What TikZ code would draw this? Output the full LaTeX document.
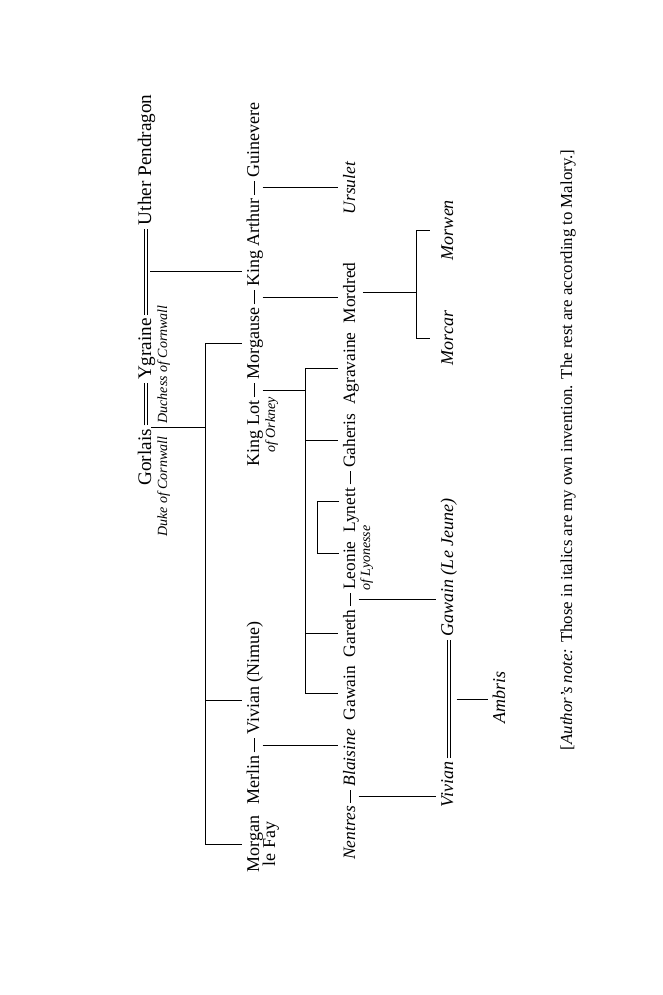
\documentclass[tikz,border=0pt]{standalone}
\usepackage{fontspec}
\setmainfont{Liberation Serif}
\usetikzlibrary{calc}
\begin{document}
\begin{tikzpicture}[x=0.5pt,y=-0.5pt, line width=0.5pt,
  r1/.style={rotate=90, inner sep=0pt, text height=6.7pt, text depth=1.9pt, font=\fontsize{9.6}{11}\selectfont},
  nm/.style={rotate=90, inner sep=0pt, text height=6.3pt, text depth=1.8pt, font=\fontsize{9}{11}\selectfont},
  r3/.style={rotate=90, inner sep=0pt, text height=6.1pt, text depth=1.7pt, font=\fontsize{8.7}{11}\selectfont},
  it3/.style={r3, font=\fontsize{8.7}{11}\selectfont\itshape},
  itn/.style={nm, font=\fontsize{9}{11}\selectfont\itshape},
  subt/.style={rotate=90, anchor=base, inner sep=0pt, text height=4.9pt, text depth=1.4pt, font=\fontsize{7}{9}\selectfont\itshape},
  dsh/.style={shorten <=1.5pt, shorten >=1.5pt},
  dbl/.style={double, double distance=1pt, shorten <=1.5pt, shorten >=1.5pt},
  brn/.style={shorten >=2pt},
]
\fill[white] (0,0) rectangle (663,995);
\useasboundingbox (0,0) rectangle (663,995);

% ---- row 1 (baseline x = 151)
\node[r1, anchor=base west] (gorlais) at (151,486) {Gorlais};
\node[r1, anchor=base west] (ygraine) at ($(gorlais.base east)+(0,-48)$) {Ygraine};
\node[r1, anchor=base west] (uther) at ($(ygraine.base east)+(0,-92)$) {Uther Pendragon};
\node[subt, anchor=base east] (duke) at (167,436) {Duke of Cornwall};
\node[subt, anchor=base west] (duchess) at (167,424) {Duchess of Cornwall};

% ---- row 2 (baseline x = 259)
\node[nm, anchor=base east] (guin) at (259,102) {Guinevere};
\node[nm, anchor=base east] (arthur) at ($(guin.base west)+(0,20)$) {King Arthur};
\node[nm, anchor=base east] (morgause) at ($(arthur.base west)+(0,20)$) {Morgause};
\node[nm, anchor=base east] (lot) at ($(morgause.base west)+(0,20)$) {King Lot};
\node[subt] (orkney) at (275,425) {of Orkney};
\node[nm, anchor=base west] (morgan) at (259,873) {Morgan};
\node[subt, font=\fontsize{9}{11}\selectfont] (lefay) at (morgan.center -| 275,0) {le Fay};
\node[nm, anchor=base west] (merlin) at ($(morgan.base east)+(0,-10)$) {Merlin};
\node[nm, anchor=base west] (vivN) at ($(merlin.base east)+(0,-20)$) {Vivian (Nimue)};

% ---- row 3 (baseline x = 355)
\node[r3, anchor=base east] (mordred) at (355,262) {Mordred};
\node[r3, anchor=base east] (agravaine) at ($(mordred.base west)+(0,8)$) {Agravaine};
\node[r3, anchor=base east] (gaheris) at ($(agravaine.base west)+(0,8)$) {Gaheris};
\node[r3, anchor=base east] (lynett) at ($(gaheris.base west)+(0,19)$) {Lynett};
\node[r3, anchor=base east] (leonie) at ($(lynett.base west)+(0,8)$) {Leonie};
\node[r3, anchor=base east] (gareth) at ($(leonie.base west)+(0,19)$) {Gareth};
\node[r3, anchor=base east] (gawain) at ($(gareth.base west)+(0,8)$) {Gawain};
\node[it3, anchor=base east] (blaisine) at ($(gawain.base west)+(0,8)$) {Blaisine};
\node[it3, anchor=base east] (nentres) at ($(blaisine.base west)+(0,19)$) {Nentres};
\node[it3, anchor=base] (ursulet) at (355,188) {Ursulet};
\node[subt] (lyonesse) at (370,558) {of Lyonesse};

% ---- row 4 (baseline x = 453)
\node[itn, anchor=base] (morwen) at (453,230) {Morwen};
\node[itn, anchor=base] (morcar) at (453,338) {Morcar};
\node[itn, anchor=base west] (gawainLJ) at (453,637) {Gawain (Le Jeune)};
\node[itn, anchor=base west] (vivian) at (453,808) {Vivian};

% ---- row 5
\node[itn, anchor=base] (ambris) at (505,697) {Ambris};

% ---- note
\node[rotate=90, anchor=base, inner sep=0pt, font=\fontsize{8.4}{10}\selectfont] (note) at (572,450)
  {[\textit{Author’s note:} Those in italics are my own invention. The rest are according to Malory.]};

% ---- marriages
\draw[dbl] (gorlais.east) -- (ygraine.west);
\draw[dbl] (ygraine.east) -- (uther.west);
\draw[dbl] (vivian.east) -- (gawainLJ.west);
\draw[dsh] (lot.east) -- (morgause.west);
\draw[dsh] (morgause.east) -- (arthur.west);
\draw[dsh] (arthur.east) -- (guin.west);
\draw[dsh] (merlin.east) -- (vivN.west);
\draw[dsh] (gareth.east) -- (leonie.west);
\draw[dsh] (lynett.east) -- (gaheris.west);
\draw[dsh] (nentres.east) -- (blaisine.west);

% ---- junctions
\coordinate (dGY) at ($(gorlais.east)+(5,-1)$);
\coordinate (gyX) at (205,0);
\coordinate (vnB) at (205,700);
\coordinate (dYU) at ($(ygraine.east)!0.5!(uther.west)+(4,0)$);
\coordinate (dLM) at ($(lot.east)!0.5!(morgause.west)+(8,0)$);
\coordinate (dMA) at ($(morgause.east)!0.5!(arthur.west)+(8,0)$);
\coordinate (dAG) at ($(arthur.east)!0.5!(guin.west)+(8,0)$);
\coordinate (dMV) at ($(merlin.east)!0.5!(vivN.west)+(8,0)$);
\coordinate (sonsX) at (305,0);
\coordinate (brX) at (317,0);
\coordinate (dGL) at ($(gareth.east)!0.5!(leonie.west)+(8,0)$);
\coordinate (dNB) at ($(nentres.east)!0.5!(blaisine.west)+(8,0)$);
\coordinate (dVG) at ($(vivian.east)!0.5!(gawainLJ.west)+(8,0)$);
\coordinate (moX) at (416,0);
\coordinate (lyA) at ($(lynett.north)+(0,-9)$);
\coordinate (leA) at ($(leonie.north)+(0,-12)$);

% ---- descent lines
\draw (dGY) -- (dGY -| gyX);
\draw (morgause.north -| gyX) -- (morgan.north -| gyX);
\draw[brn] (morgause.north -| gyX) -- (morgause.north);
\draw[brn] (vnB) -- (vnB -| vivN.north);
\draw[brn] (morgan.north -| gyX) -- (morgan.north);
\draw[brn] (dYU) -- (dYU -| arthur.north);
\draw[brn] (dMV) -- (dMV -| blaisine.north);
\draw (dLM) -- (dLM -| sonsX);
\draw (agravaine.north -| sonsX) -- (gawain.north -| sonsX);
\draw[brn] (agravaine.north -| sonsX) -- (agravaine.north);
\draw[brn] (gaheris.north -| sonsX) -- (gaheris.north);
\draw[brn] (gareth.north -| sonsX) -- (gareth.north);
\draw[brn] (gawain.north -| sonsX) -- (gawain.north);
\draw[brn] (dMA) -- (dMA -| mordred.north);
\draw[brn] (dAG) -- (dAG -| ursulet.north);
\draw[dsh] (lyA) -- (lyA -| brX) -- (leA -| brX) -- (leA);
\draw[brn] (dGL) -- (dGL -| gawainLJ.north);
\draw[brn] (dNB) -- (dNB -| vivian.north);
\draw[brn] (dVG) -- (dVG -| ambris.north);
\draw ($(mordred.south)+(4,0)$) -- (mordred.south -| moX);
\draw (morwen.north -| moX) -- (morcar.north -| moX);
\draw[shorten >=5pt] (morwen.north -| moX) -- (morwen.north);
\draw[shorten >=5pt] (morcar.north -| moX) -- (morcar.north);
\end{tikzpicture}
\end{document}
